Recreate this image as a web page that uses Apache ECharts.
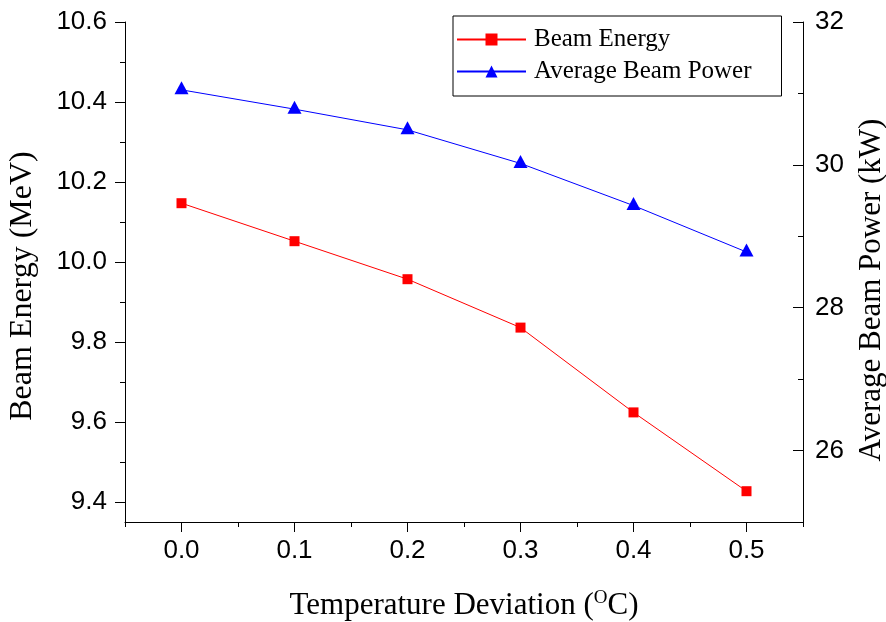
<!DOCTYPE html>
<html>
<head>
<meta charset="utf-8">
<script src="https://cdn.jsdelivr.net/npm/echarts@6/dist/echarts.min.js"></script>
<style>
  html, body { margin: 0; padding: 0; background: #fff; }
  #chart { width: 886px; height: 622px; }
</style>
</head>
<body>
<div id="chart"></div>
<script>
// Temperature deviation (°C) on the x axis
const deviations = [0.0, 0.1, 0.2, 0.3, 0.4, 0.5];
// Beam energy (MeV), left axis
const beamEnergy = [10.147, 10.052, 9.957, 9.836, 9.624, 9.427];
// Average beam power (kW), right axis
const beamPower = [31.05, 30.78, 30.49, 30.02, 29.43, 28.78];

// Tick positions
const xTicks = [0.0, 0.1, 0.2, 0.3, 0.4, 0.5];
const xMinorTicks = [-0.05, 0.05, 0.15, 0.25, 0.35, 0.45, 0.55];
const energyTicks = [9.4, 9.6, 9.8, 10.0, 10.2, 10.4, 10.6];
const energyMinorTicks = [9.5, 9.7, 9.9, 10.1, 10.3, 10.5];
const powerTicks = [26, 28, 30, 32];
const powerMinorTicks = [27, 29, 31];

const SANS = '"Liberation Sans", Arial, sans-serif';
const SERIF = '"Liberation Serif", "Times New Roman", serif';
const BLACK = '#000';

const axisLineStyle = { color: BLACK, width: 1 };
const tickLabel = { fontFamily: SANS, fontSize: 26, color: BLACK };

const chart = echarts.init(document.getElementById('chart'), null, { renderer: 'canvas' });

chart.setOption({
  animation: false,
  backgroundColor: '#fff',
  grid: { left: 125, right: 83, top: 22, bottom: 100, containLabel: false, outerBoundsMode: 'none' },
  legend: {
    orient: 'vertical',
    left: 453,
    top: 16,
    data: ['Beam Energy', 'Average Beam Power'],
    itemWidth: 69,
    itemHeight: 15,
    itemGap: 7,
    padding: [11, 30, 12, 3],
    backgroundColor: '#fff',
    borderColor: BLACK,
    borderWidth: 1,
    borderRadius: 0,
    selectedMode: false,
    textStyle: { fontFamily: SERIF, fontSize: 25, color: BLACK, padding: [0, 0, 0, 3] }
  },
  xAxis: [
    {
      type: 'value',
      position: 'bottom',
      min: -0.05,
      max: 0.55,
      name: 'Temperature Deviation ({sup|O}C)',
      nameLocation: 'middle',
      nameGap: 67,
      nameMoveOverlap: false,
      nameTextStyle: {
        fontFamily: SERIF, fontSize: 31, color: BLACK,
        rich: { sup: { fontFamily: SERIF, fontSize: 19, color: BLACK, padding: [0, 0, 14, 0] } }
      },
      axisLine: { show: true, onZero: false, lineStyle: axisLineStyle },
      axisTick: { show: true, customValues: xTicks, length: 10, lineStyle: axisLineStyle },
      axisLabel: Object.assign({ customValues: xTicks, margin: 16, formatter: v => v.toFixed(1) }, tickLabel),
      splitLine: { show: false }
    },
    {
      type: 'value',
      position: 'bottom',
      min: -0.05,
      max: 0.55,
      axisLine: { show: false, onZero: false },
      axisTick: { show: true, customValues: xMinorTicks, length: 5, lineStyle: axisLineStyle },
      axisLabel: { show: false },
      splitLine: { show: false }
    }
  ],
  yAxis: [
    {
      type: 'value',
      position: 'left',
      min: 9.35,
      max: 10.6,
      name: 'Beam Energy (MeV)',
      nameLocation: 'middle',
      nameRotate: 90,
      nameGap: 86,
      nameMoveOverlap: false,
      nameTextStyle: { fontFamily: SERIF, fontSize: 32, color: BLACK, padding: [0, 28, 0, 0] },
      axisLine: { show: true, onZero: false, lineStyle: axisLineStyle },
      axisTick: { show: true, customValues: energyTicks, length: 10, lineStyle: axisLineStyle },
      axisLabel: Object.assign({ customValues: energyTicks, margin: 18, formatter: v => v.toFixed(1) }, tickLabel),
      splitLine: { show: false }
    },
    {
      type: 'value',
      position: 'right',
      min: 25,
      max: 32,
      name: 'Average Beam Power (kW)',
      nameLocation: 'middle',
      nameRotate: 90,
      nameGap: 53,
      nameMoveOverlap: false,
      nameTextStyle: { fontFamily: SERIF, fontSize: 31, color: BLACK, padding: [0, 36, 0, 0] },
      axisLine: { show: true, onZero: false, lineStyle: axisLineStyle },
      axisTick: { show: true, inside: true, customValues: powerTicks, length: 10, lineStyle: axisLineStyle },
      axisLabel: Object.assign({ customValues: powerTicks, margin: 12, formatter: v => String(v) }, tickLabel),
      splitLine: { show: false }
    },
    {
      type: 'value',
      position: 'left',
      min: 9.35,
      max: 10.6,
      axisLine: { show: false, onZero: false },
      axisTick: { show: true, customValues: energyMinorTicks, length: 5, lineStyle: axisLineStyle },
      axisLabel: { show: false },
      splitLine: { show: false }
    },
    {
      type: 'value',
      position: 'right',
      min: 25,
      max: 32,
      axisLine: { show: false, onZero: false },
      axisTick: { show: true, inside: true, customValues: powerMinorTicks, length: 5, lineStyle: axisLineStyle },
      axisLabel: { show: false },
      splitLine: { show: false }
    }
  ],
  series: [
    {
      name: 'Beam Energy',
      type: 'line',
      xAxisIndex: 0,
      yAxisIndex: 0,
      data: deviations.map((x, i) => [x, beamEnergy[i]]),
      symbol: 'rect',
      symbolSize: 10,
      itemStyle: { color: '#ff0000' },
      lineStyle: { color: '#ff0000', width: 1 },
      z: 3
    },
    {
      name: 'Average Beam Power',
      type: 'line',
      xAxisIndex: 0,
      yAxisIndex: 1,
      data: deviations.map((x, i) => [x, beamPower[i]]),
      symbol: 'triangle',
      symbolSize: [14, 13],
      symbolOffset: [0, -2],
      itemStyle: { color: '#0000ff' },
      lineStyle: { color: '#0000ff', width: 1 },
      z: 3
    }
  ]
});
</script>
</body>
</html>
